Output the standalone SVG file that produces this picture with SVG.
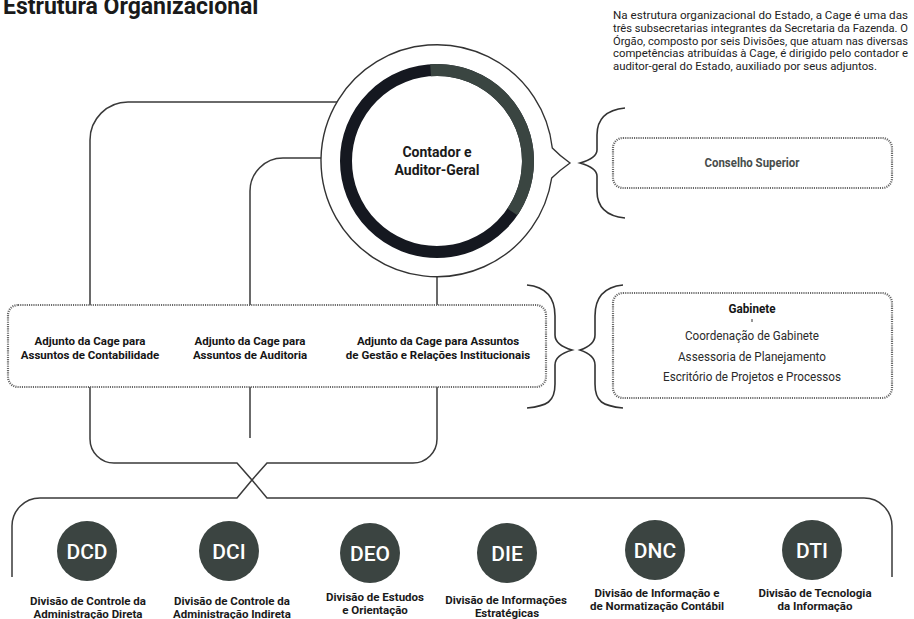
<svg xmlns="http://www.w3.org/2000/svg" width="914" height="619" viewBox="0 0 914 619">
<style>
text{font-family:Roboto,"Liberation Sans",sans-serif}
.ln{fill:none;stroke:#3a3a3a;stroke-width:1.5}
.br{fill:none;stroke:#333;stroke-width:1.6}
.dot{fill:#2a2a2a}
.box{fill:#fff;stroke:#666;stroke-width:2.2;stroke-dasharray:1.1 1.1}
.adj{font-size:11.5px;font-weight:700;fill:#151515;text-anchor:middle}
.para{font-size:10.5px;fill:#222}
.div{fill:#3b4441}
.ab{font-size:21px;font-weight:500;fill:#fff;text-anchor:middle}
.dl{font-size:11.5px;font-weight:700;fill:#1a1a1a;text-anchor:middle}
.gab{font-size:12px;fill:#2a2a2a;text-anchor:middle}
</style>
<rect width="914" height="619" fill="#fff"/>
<text x="3" y="13.5" font-size="23" font-weight="700" fill="#1a1a1a">Estrutura Organizacional</text>
<g id="intro">
<text class="para" x="613" y="19" textLength="295" lengthAdjust="spacingAndGlyphs">Na estrutura organizacional do Estado, a Cage é uma das</text>
<text class="para" x="613" y="31.8" textLength="295" lengthAdjust="spacingAndGlyphs">três subsecretarias integrantes da Secretaria da Fazenda. O</text>
<text class="para" x="613" y="44.5" textLength="295" lengthAdjust="spacingAndGlyphs">Órgão, composto por seis Divisões, que atuam nas diversas</text>
<text class="para" x="613" y="57.3" textLength="295" lengthAdjust="spacingAndGlyphs">competências atribuídas à Cage, é dirigido pelo contador e</text>
<text class="para" x="613" y="70" textLength="264" lengthAdjust="spacingAndGlyphs">auditor-geral do Estado, auxiliado por seus adjuntos.</text>
</g>
<g id="connectors">
<path class="ln" d="M337,102 H128 A38,38 0 0 0 90,140 V320"/>
<path class="ln" d="M321,158 H283 A33,33 0 0 0 250,191 V320"/>
<path class="ln" d="M437,277 V320"/>
<circle class="dot" cx="90" cy="320" r="2"/>
<circle class="dot" cx="250" cy="320" r="2"/>
<circle class="dot" cx="437" cy="320" r="2"/>
<path class="ln" d="M90,377 V439 A24,24 0 0 0 114,463 H237 L252,480 L267,463 H413 A24,24 0 0 0 437,439 V377"/>
<path class="ln" d="M250,377 V438"/>
<path class="ln" d="M12,577 V526 A28,28 0 0 1 40,498 H237 L252,480 L267,498 H864 A28,28 0 0 1 892,526 V577"/>
<path class="br" d="M625,108 C605,110 597,120 597,135 L597,150 Q597,158 580,163 Q597,168 597,176 L597,191 C597,206 605,216 625,218"/>
<path class="br" d="M527,285 C547,287 555,298 555,316 L555,335 Q555,345 572,350 Q555,355 555,365 L555,384 C555,402 547,406 527,408"/>
<path class="br" d="M623,285 C603,287 595,298 595,316 L595,335 Q595,345 580,350 Q595,355 595,365 L595,384 C595,402 603,406 623,408"/>
</g>
<g id="contador">
<path fill="#fff" stroke="#333" stroke-width="1.4" d="M552.3,148 A116,116 0 1 0 551.7,178 Q560,170 570,163 Q560,156 552.3,148 Z"/>
<circle cx="437" cy="161" r="91" fill="none" stroke="#151820" stroke-width="12"/>
<path d="M430.6,70.2 A91,91 0 0 1 512.4,211.9" fill="none" stroke="#3a4541" stroke-width="12"/>
<text x="437" y="157" font-size="14" font-weight="700" fill="#1a1a1a" text-anchor="middle">Contador e</text>
<text x="437" y="175" font-size="14" font-weight="700" fill="#1a1a1a" text-anchor="middle">Auditor-Geral</text>
</g>
<g id="conselho">
<rect class="box" x="613" y="138" width="279" height="50" rx="10"/>
<text x="752" y="167" font-size="12" font-weight="700" fill="#474d4c" text-anchor="middle" textLength="95" lengthAdjust="spacingAndGlyphs">Conselho Superior</text>
</g>
<g id="adjuntos">
<rect class="box" x="8" y="305" width="538" height="82" rx="10"/>
<text class="adj" x="90" y="345">Adjunto da Cage para</text>
<text class="adj" x="90" y="359">Assuntos de Contabilidade</text>
<text class="adj" x="250" y="345">Adjunto da Cage para</text>
<text class="adj" x="250" y="359">Assuntos de Auditoria</text>
<text class="adj" x="438" y="345">Adjunto da Cage para Assuntos</text>
<text class="adj" x="438" y="359">de Gestão e Relações Institucionais</text>
</g>
<g id="gabinete">
<rect class="box" x="613" y="293" width="279" height="105" rx="10"/>
<text x="752" y="313" font-size="12" font-weight="700" fill="#151515" text-anchor="middle" textLength="47" lengthAdjust="spacingAndGlyphs">Gabinete</text>
<path d="M752,319 V322" stroke="#333" stroke-width="1"/>
<text class="gab" x="752" y="340" textLength="134" lengthAdjust="spacingAndGlyphs">Coordenação de Gabinete</text>
<text class="gab" x="752" y="361" textLength="148" lengthAdjust="spacingAndGlyphs">Assessoria de Planejamento</text>
<text class="gab" x="752" y="381" textLength="178" lengthAdjust="spacingAndGlyphs">Escritório de Projetos e Processos</text>
</g>
<g id="dcd">
<circle class="div" cx="87" cy="551" r="30"/>
<text class="ab" x="87" y="558.5">DCD</text>
<text class="dl" x="88" y="605">Divisão de Controle da</text>
<text class="dl" x="88" y="617.5">Administração Direta</text>
</g>
<g id="dci">
<circle class="div" cx="229" cy="551" r="30"/>
<text class="ab" x="229" y="558.5">DCI</text>
<text class="dl" x="232" y="605">Divisão de Controle da</text>
<text class="dl" x="232" y="617.5">Administração Indireta</text>
</g>
<g id="deo">
<circle class="div" cx="370" cy="553" r="30"/>
<text class="ab" x="370" y="560.5">DEO</text>
<text class="dl" x="375" y="601">Divisão de Estudos</text>
<text class="dl" x="375" y="614">e Orientação</text>
</g>
<g id="die">
<circle class="div" cx="507" cy="553" r="30"/>
<text class="ab" x="507" y="560.5">DIE</text>
<text class="dl" x="506" y="604">Divisão de Informações</text>
<text class="dl" x="507" y="617">Estratégicas</text>
</g>
<g id="dnc">
<circle class="div" cx="655" cy="550" r="30"/>
<text class="ab" x="655" y="557.5">DNC</text>
<text class="dl" x="657" y="596.5">Divisão de Informação e</text>
<text class="dl" x="657" y="609.5">de Normatização Contábil</text>
</g>
<g id="dti">
<circle class="div" cx="812" cy="550" r="30"/>
<text class="ab" x="812" y="557.5">DTI</text>
<text class="dl" x="815" y="596.5">Divisão de Tecnologia</text>
<text class="dl" x="815" y="609.5">da Informação</text>
</g>
</svg>
